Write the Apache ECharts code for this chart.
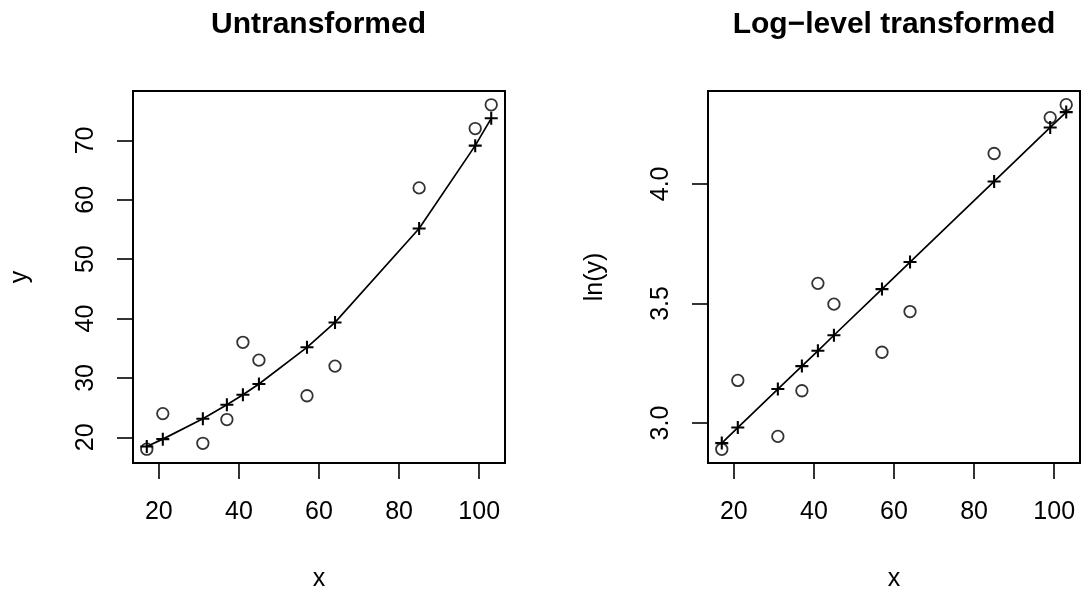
<!DOCTYPE html>
<html>
<head>
<meta charset="utf-8" />
<title>Untransformed vs log-level</title>
<script src="https://cdn.jsdelivr.net/npm/echarts@6.0.0/dist/echarts.min.js"></script>
<style>
body { margin: 0; background: #fff; }
</style>
</head>
<body>
<div id="main" style="width: 1083px;height:597px;"></div>
<script type="text/javascript">
// data
var xVals = [17, 21, 31, 37, 41, 45, 57, 64, 85, 99, 103];
var yObs = [18, 24, 19, 23, 36, 33, 27, 32, 62, 72, 76];
var yFit = [18.47, 19.70, 23.14, 25.48, 27.18, 28.99, 35.16, 39.35, 55.16, 69.12, 73.72];
var lnObs = [2.890, 3.178, 2.944, 3.135, 3.584, 3.497, 3.296, 3.466, 4.127, 4.277, 4.331];
var lnFit = [2.916, 2.981, 3.142, 3.238, 3.302, 3.367, 3.560, 3.673, 4.010, 4.236, 4.300];

var xTicks = [20, 40, 60, 80, 100];
var yTicks = [20, 30, 40, 50, 60, 70];
var lnTicks = [3.0, 3.5, 4.0];

function pairs(xs, ys) {
  return xs.map(function (x, i) { return [x, ys[i]]; });
}

var font = 'Liberation Sans';
// plus sign drawn as a filled cross
var plus = 'path://M4.2,0h1.6v4.2h4.2v1.6h-4.2v4.2h-1.6v-4.2h-4.2v-1.6h4.2z';

function xAxis(idx) {
  return {
    type: 'value', gridIndex: idx, min: 13.56, max: 106.44,
    name: 'x', nameLocation: 'middle', nameGap: 104,
    nameTextStyle: { fontFamily: font, fontSize: 25, color: '#000' },
    axisLine: { show: false },
    splitLine: { show: false },
    axisTick: { show: true, length: 16, customValues: xTicks, lineStyle: { color: '#000', width: 1.6 } },
    axisLabel: { customValues: xTicks, margin: 37, fontFamily: font, fontSize: 25, color: '#000' }
  };
}

function yAxis(idx, name, mn, mx, ticks, fmt) {
  return {
    type: 'value', gridIndex: idx, min: mn, max: mx,
    name: name, nameLocation: 'middle', nameGap: 100,
    nameTextStyle: { fontFamily: font, fontSize: 25, color: '#000' },
    axisLine: { show: false },
    splitLine: { show: false },
    axisTick: { show: true, length: 16, customValues: ticks, lineStyle: { color: '#000', width: 1.6 } },
    axisLabel: { customValues: ticks, rotate: 90, margin: 34, fontFamily: font, fontSize: 25, color: '#000', formatter: fmt }
  };
}

function obsSeries(idx, data) {
  return {
    type: 'scatter', xAxisIndex: idx, yAxisIndex: idx, data: data,
    symbol: 'circle', symbolSize: 11.5,
    itemStyle: { color: 'rgba(0,0,0,0)', borderColor: '#000', borderWidth: 1.8 },
    z: 3
  };
}

function fitSeries(idx, data) {
  return {
    type: 'line', xAxisIndex: idx, yAxisIndex: idx, data: data,
    symbol: plus, symbolSize: 13, showAllSymbol: true,
    lineStyle: { color: '#000', width: 1.7 },
    itemStyle: { color: '#000' },
    z: 2
  };
}

var myChart = echarts.init(document.getElementById('main'));

var option = {
  animation: false,
  backgroundColor: '#fff',
  title: [
    { text: 'Untransformed', left: 318.5, top: 10, textAlign: 'center', padding: 0,
      textStyle: { fontFamily: font, fontSize: 30, fontWeight: 'bold', color: '#000' } },
    { text: 'Log\u2212level transformed', left: 894, top: 10, textAlign: 'center', padding: 0,
      textStyle: { fontFamily: font, fontSize: 30, fontWeight: 'bold', color: '#000' } }
  ],
  grid: [
    { left: 133, top: 91, width: 372, height: 372, show: true, borderColor: '#000', borderWidth: 2, backgroundColor: 'transparent' },
    { left: 708, top: 91, width: 372, height: 372, show: true, borderColor: '#000', borderWidth: 2, backgroundColor: 'transparent' }
  ],
  xAxis: [xAxis(0), xAxis(1)],
  yAxis: [
    yAxis(0, 'y', 15.68, 78.32, yTicks, function (v) { return String(v); }),
    yAxis(1, 'ln(y)', 2.8328, 4.3883, lnTicks, function (v) { return v.toFixed(1); })
  ],
  series: [
    fitSeries(0, pairs(xVals, yFit)),
    obsSeries(0, pairs(xVals, yObs)),
    fitSeries(1, pairs(xVals, lnFit)),
    obsSeries(1, pairs(xVals, lnObs))
  ]
};

myChart.setOption(option);
</script>
</body>
</html>
